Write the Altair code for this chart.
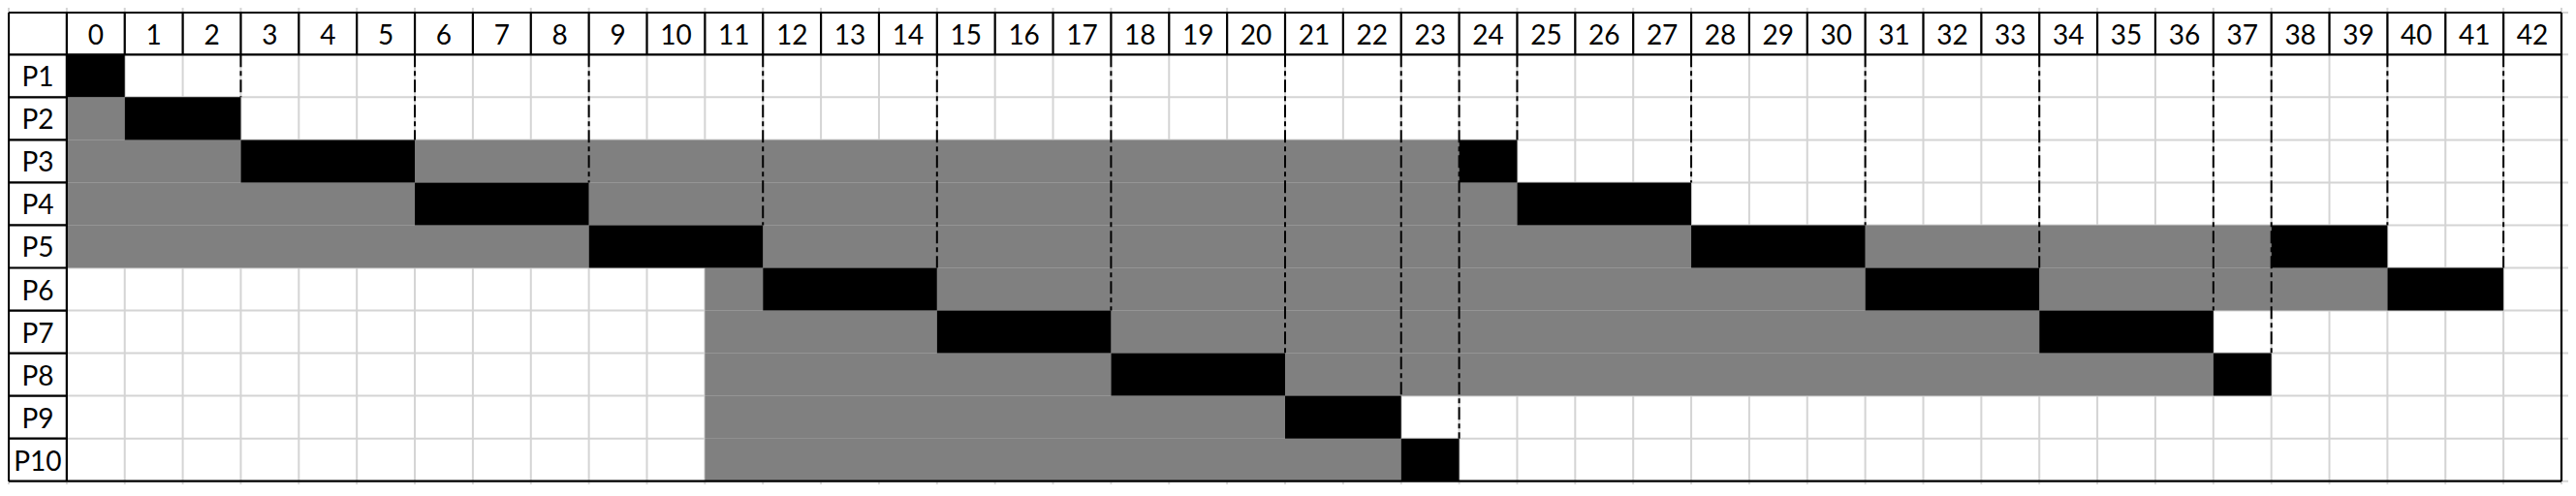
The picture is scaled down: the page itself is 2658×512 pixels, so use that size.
import altair as alt
import pandas as pd

# ---------------- data ----------------
processes = ["P1", "P2", "P3", "P4", "P5", "P6", "P7", "P8", "P9", "P10"]
time_labels = [0, 1, 2, 3, 4, 5, 6, 7, 8, 9, 10, 11, 12, 13, 14, 15, 16, 17, 18, 19, 20,
               21, 22, 23, 24, 25, 26, 27, 28, 29, 30, 31, 32, 33, 34, 35, 36, 37, 38, 39,
               40, 41, 42]

# running (black) segments: process, start, end
run_proc = ["P1", "P2", "P3", "P4", "P5", "P6", "P7", "P8", "P9", "P10",
            "P3", "P4", "P5", "P6", "P7", "P8", "P5", "P6"]
run_start = [0, 1, 3, 6, 9, 12, 15, 18, 21, 23, 24, 25, 28, 31, 34, 37, 38, 40]
run_end = [1, 3, 6, 9, 12, 15, 18, 21, 23, 24, 25, 28, 31, 34, 37, 38, 40, 42]

# waiting (grey) segments: process, start, end
wait_proc = ["P2", "P3", "P4", "P5", "P3", "P4", "P5", "P6", "P7", "P8", "P9", "P10",
             "P6", "P7", "P8", "P5", "P6"]
wait_start = [0, 0, 0, 0, 6, 9, 12, 11, 11, 11, 11, 11, 15, 18, 21, 31, 34]
wait_end = [1, 3, 6, 9, 24, 25, 28, 12, 15, 18, 21, 23, 31, 34, 37, 38, 40]

# ---------------- geometry (scale domains) ----------------
W, H = 2642, 492
px_x = (2643 - 9) / 44.0
x0 = -1 - 1 / px_x
x1 = x0 + W / px_x
px_y = 44.04
y0 = -(56.3 - 8) / px_y
y1 = y0 + H / px_y
hdr_top = -43.3 / px_y

xs = alt.Scale(domain=[x0, x1], nice=False, zero=False)
ys = alt.Scale(domain=[y0, y1], nice=False, zero=False, reverse=True)

row_of = {p: i for i, p in enumerate(processes)}

run_df = pd.DataFrame({"p": run_proc, "s": run_start, "e": run_end})
run_df["r0"] = run_df["p"].map(row_of)
run_df["r1"] = run_df["r0"] + 1

wait_df = pd.DataFrame({"p": wait_proc, "s": wait_start, "e": wait_end})
wait_df["r0"] = wait_df["p"].map(row_of)
wait_df["r1"] = wait_df["r0"] + 1

# dashed guide lines: from header bottom down to the top of the row of the bar that ends there
dash_df = pd.DataFrame({"t": run_df["e"], "ya": 0.0, "yb": run_df["r0"].astype(float)})
dash_df = dash_df[dash_df["yb"] > 0]

ncol = len(time_labels)
# light grey spreadsheet gridlines
vgrid = pd.DataFrame({"t": list(range(-1, ncol + 1))})
hgrid = pd.DataFrame({"r": [hdr_top] + list(range(0, len(processes) + 1))})

# black borders (table outline, header cells, label column cells)
bh = []  # horizontal: r, xa, xb
bh.append((hdr_top, -1, ncol))
bh.append((0, -1, ncol))
bh.append((len(processes), -1, ncol))
for i in range(1, len(processes)):
    bh.append((i, -1, 0))
bh_df = pd.DataFrame(bh, columns=["r", "xa", "xb"])

bv = []  # vertical: t, ya, yb
bv.append((-1, hdr_top, len(processes)))
bv.append((0, hdr_top, len(processes)))
bv.append((ncol, hdr_top, len(processes)))
for t in range(1, ncol):
    bv.append((t, hdr_top, 0))
bv_df = pd.DataFrame(bv, columns=["t", "ya", "yb"])

hdr_df = pd.DataFrame({"lab": [str(v) for v in time_labels],
                       "xc": [v + 0.5 for v in time_labels],
                       "yc": hdr_top / 2})
lab_df = pd.DataFrame({"lab": processes, "xc": -0.5,
                       "yc": [i + 0.5 for i in range(len(processes))]})

GRID = "#d4d4d4"
FONT = "Lato"

vg = alt.Chart(vgrid).mark_rule(color=GRID, strokeWidth=2).encode(
    x=alt.X("t:Q", scale=xs, axis=None), y=alt.value(0), y2=alt.value(H))
hg = alt.Chart(hgrid).mark_rule(color=GRID, strokeWidth=2).encode(
    y=alt.Y("r:Q", scale=ys, axis=None), x=alt.value(0), x2=alt.value(W))

wait = alt.Chart(wait_df).mark_rect(color="#808080", strokeWidth=0).encode(
    x=alt.X("s:Q", scale=xs, axis=None), x2="e:Q",
    y=alt.Y("r0:Q", scale=ys, axis=None), y2="r1:Q")
run = alt.Chart(run_df).mark_rect(color="#000000", strokeWidth=0).encode(
    x=alt.X("s:Q", scale=xs, axis=None), x2="e:Q",
    y=alt.Y("r0:Q", scale=ys, axis=None), y2="r1:Q")

dash = alt.Chart(dash_df).mark_rule(color="#000000", strokeWidth=2,
                                     strokeDash=[13, 4, 5, 4]).encode(
    x=alt.X("t:Q", scale=xs, axis=None),
    y=alt.Y("ya:Q", scale=ys, axis=None), y2="yb:Q")

bhl = alt.Chart(bh_df).mark_rule(color="#000000", strokeWidth=2.2).encode(
    y=alt.Y("r:Q", scale=ys, axis=None),
    x=alt.X("xa:Q", scale=xs, axis=None), x2="xb:Q")
bvl = alt.Chart(bv_df).mark_rule(color="#000000", strokeWidth=2.2).encode(
    x=alt.X("t:Q", scale=xs, axis=None),
    y=alt.Y("ya:Q", scale=ys, axis=None), y2="yb:Q")

hdr_txt = alt.Chart(hdr_df).mark_text(font=FONT, fontSize=28, color="#000000",
                                      align="center", baseline="alphabetic", dy=11).encode(
    x=alt.X("xc:Q", scale=xs, axis=None), y=alt.Y("yc:Q", scale=ys, axis=None), text="lab:N")
lab_txt = alt.Chart(lab_df).mark_text(font=FONT, fontSize=28, color="#000000",
                                      align="center", baseline="alphabetic", dy=11).encode(
    x=alt.X("xc:Q", scale=xs, axis=None), y=alt.Y("yc:Q", scale=ys, axis=None), text="lab:N")

chart = alt.layer(vg, hg, wait, run, dash, bhl, bvl, hdr_txt, lab_txt).properties(
    width=W, height=H, padding=0, background="white",
    autosize=alt.AutoSizeParams(type="none"),
).configure_view(stroke=None)

chart.save("out.html", embed_options={"renderer": "svg", "actions": False})
